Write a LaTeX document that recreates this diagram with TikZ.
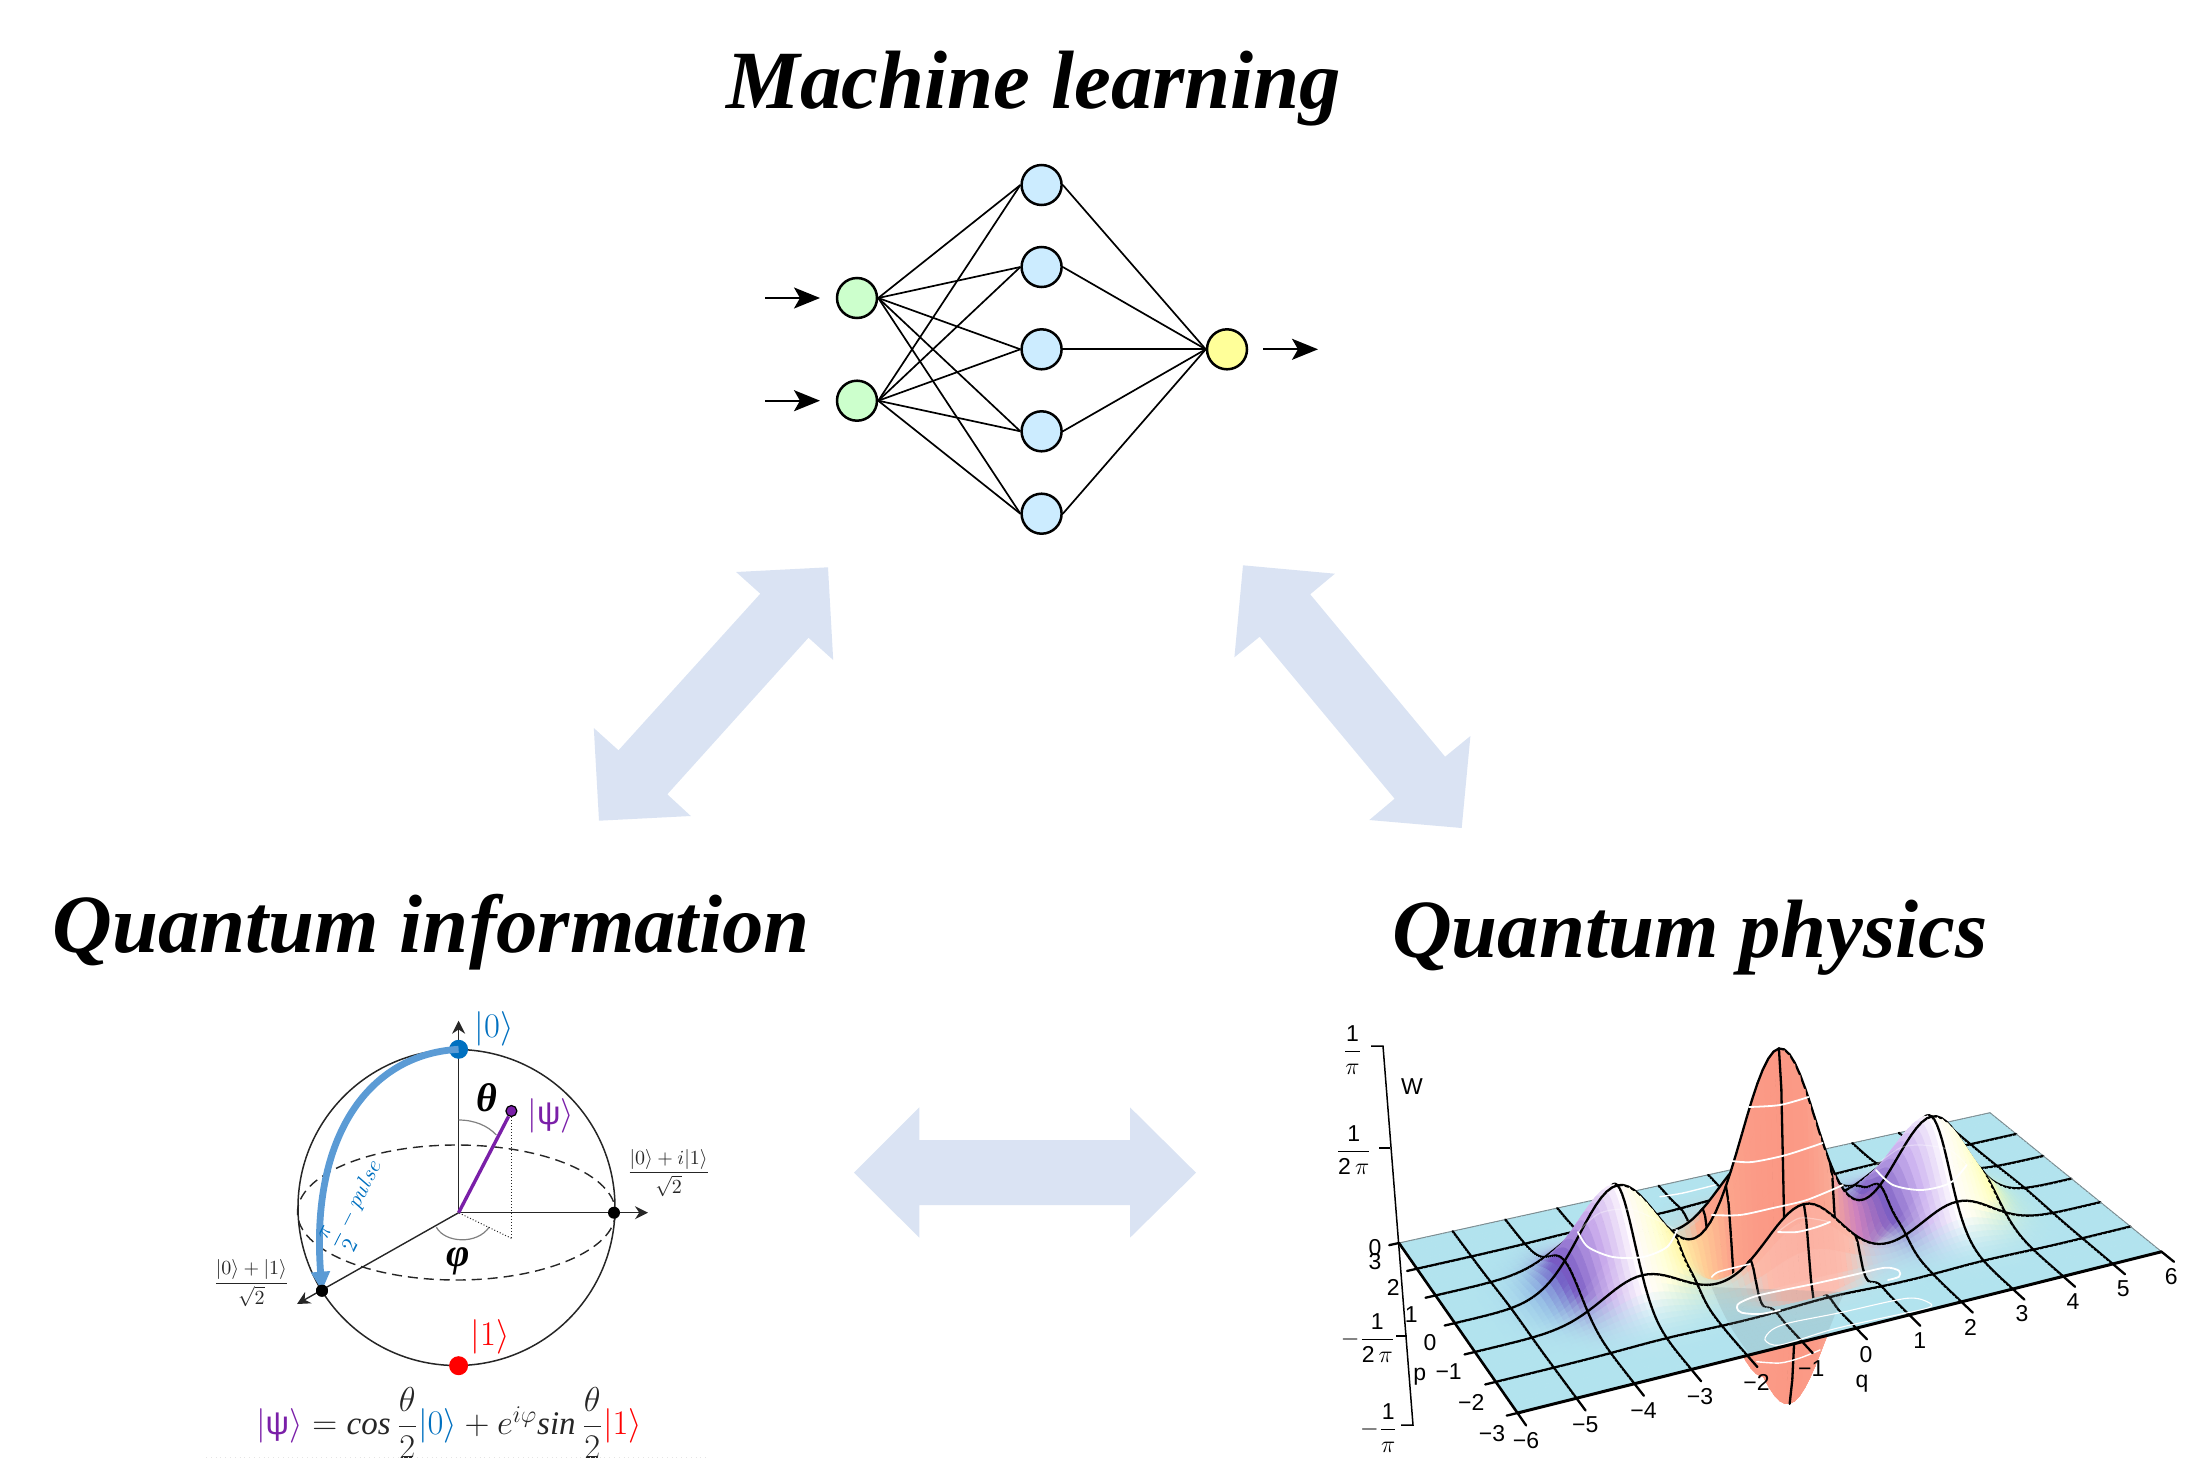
\documentclass[tikz,border=0pt]{standalone}
\usepackage{amsmath}
\usepackage{fontspec}
\setmainfont{Liberation Serif}
\newfontfamily\kf{Liberation Sans}
\usetikzlibrary{arrows.meta}

\definecolor{flowblue}{HTML}{DAE3F3}
\definecolor{nngreen}{HTML}{CCFFCC}
\definecolor{nnblue}{HTML}{CCECFF}
\definecolor{nnyellow}{HTML}{FFFF99}
\definecolor{qblue}{HTML}{0070C0}
\definecolor{qpulse}{HTML}{5B9BD5}
\definecolor{qpurple}{HTML}{7A1FA8}
\definecolor{qred}{HTML}{FF0000}
\definecolor{qink}{HTML}{262626}
\definecolor{plategrey}{HTML}{7F8C90}

\tikzset{
  heading/.style={anchor=base,font=\fontsize{41.4}{45}\selectfont\bfseries\itshape},
  flow/.style={fill=flowblue,draw=none},
  nncell/.style={circle,draw=black,line width=1.25pt,minimum size=20pt,inner sep=0pt},
  nnedge/.style={line width=.85pt,black},
  nnfeed/.style={line width=1pt,black,-{Stealth[length=13pt,width=10.5pt,inset=3pt]}},
  axisline/.style={line width=.7pt,qink},
  axisarrow/.style={axisline,-{Stealth[length=6.5pt,width=6.5pt]}},
  blochdot/.style={circle,inner sep=0pt,minimum size=#1},
  anglearc/.style={line width=.6pt,gray},
  guide/.style={line width=.5pt,qink,densely dotted},
  ticklabel/.style={font=\kf\fontsize{11.5}{12}\selectfont,inner sep=0pt},
  contour/.style={white,line width=.9pt,line cap=round,line join=round},
  contourfaint/.style={white,line width=.6pt,opacity=.35,line cap=round},
  surfaceaxis/.style={line width=.75pt,black}
}

% |x> with the bar and the angle bracket from the math fonts
\newcommand{\ketc}[1]{|#1\rangle}

% Grid tables of the Wigner function W(q,p), w = pi*W
% q = -6 + i/10 with i from 0 to 120, p = -3 + j/10 with j from 0 to 60
\newcommand{\wgpt}[2]{\pgfqpoint{\csname wx#1.#2\endcsname}{\csname wy#1.#2\endcsname}}
\def\stopsR{178,150,110,105,120,200,255,255,255,255,252,251,251,251,250,205,125,205,255,255,255,225,200,185,178,178}
\def\stopsG{227,190,150,130,90,170,250,255,248,205,165,155,152,155,170,130,95,180,252,255,255,250,240,232,227,227}
\def\stopsB{238,235,225,215,195,235,255,215,170,150,140,135,132,135,150,190,195,240,255,220,180,190,215,232,238,238}

\newcommand{\wgbuildcolumns}{%
  \foreach \i in {0,...,120}{%
    \pgfmathsetmacro\q{-6+\i/10}%
    \pgfmathparse{exp(0-(\q)*(\q))}\expandafter\xdef\csname wcen\i\endcsname{\pgfmathresult}%
    \pgfmathparse{0.5*(exp(0-(\q-3)*(\q-3))+exp(0-(\q+3)*(\q+3)))}\expandafter\xdef\csname wlob\i\endcsname{\pgfmathresult}%
    \pgfmathtruncatemacro\k{\i/5}%
    \pgfmathsetmacro\f{\i/5-\k}%
    \pgfmathtruncatemacro\kn{\k+1}%
    \pgfmathparse{(1-\f)*{\stopsR}[\k]+\f*{\stopsR}[\kn]}\expandafter\xdef\csname wcr\i\endcsname{\pgfmathresult}%
    \pgfmathparse{(1-\f)*{\stopsG}[\k]+\f*{\stopsG}[\kn]}\expandafter\xdef\csname wcg\i\endcsname{\pgfmathresult}%
    \pgfmathparse{(1-\f)*{\stopsB}[\k]+\f*{\stopsB}[\kn]}\expandafter\xdef\csname wcb\i\endcsname{\pgfmathresult}%
  }%
}
\newcommand{\wgbuildrows}{%
  \foreach \j in {0,...,60}{%
    \pgfmathsetmacro\p{-3+\j/10}%
    \pgfmathparse{exp(0-(\p)*(\p))}\expandafter\xdef\csname wenv\j\endcsname{\pgfmathresult}%
    \pgfmathparse{cos(deg(6*\p))}\expandafter\xdef\csname wcos\j\endcsname{\pgfmathresult}%
    % the near slopes are washed towards white
    \pgfmathparse{0.6*max(0,min(1,(-\p-0.6)/1.2))}\expandafter\xdef\csname wfad\j\endcsname{\pgfmathresult}%
  }%
}
\newcommand{\wgbuildpoints}{%
  \foreach \j in {0,...,60}{%
    \edef\env{\csname wenv\j\endcsname}\edef\co{\csname wcos\j\endcsname}\edef\fad{\csname wfad\j\endcsname}%
    \pgfmathsetmacro\v{\j/60}%
    \foreach \i in {0,...,120}{%
      \edef\cen{\csname wcen\i\endcsname}\edef\lob{\csname wlob\i\endcsname}%
      \pgfmathsetmacro\u{\i/120}%
      \pgfmathsetmacro\w{\env*(\lob+\cen*\co)}%
      \pgfmathsetmacro\dd{1+0.1091*\u+0.12153*\v-0.046*\w}%
      \pgfmathparse{0.5*(879.9*\u+51.5*\v+1517.5-81*\w)/\dd}\expandafter\xdef\csname wx\i.\j\endcsname{\pgfmathresult pt}%
      \pgfmathparse{-0.5*(-24.7*\u-18.94*\v+1413-270*\w)/\dd}\expandafter\xdef\csname wy\i.\j\endcsname{\pgfmathresult pt}%
      \pgfmathsetmacro\m{min(1,\env*(\lob+\cen)*7.14)}%
      \ifdim\m pt<0.01pt
        \expandafter\xdef\csname wc\i.\j\endcsname{0.698,0.89,0.933}%
      \else
        \pgfmathsetmacro\cr{(\m*((1-\fad)*\csname wcr\i\endcsname+\fad*255)+(1-\m)*178)/255}%
        \pgfmathsetmacro\cg{(\m*((1-\fad)*\csname wcg\i\endcsname+\fad*255)+(1-\m)*227)/255}%
        \pgfmathsetmacro\cb{(\m*((1-\fad)*\csname wcb\i\endcsname+\fad*255)+(1-\m)*238)/255}%
        \expandafter\xdef\csname wc\i.\j\endcsname{\cr,\cg,\cb}%
      \fi
    }%
  }%
}

% Grid lines fall on whole values of q and p
\foreach \n in {0,10,...,120}{\expandafter\xdef\csname wqline\n\endcsname{1}}
\foreach \n in {0,10,...,60}{\expandafter\xdef\csname wpline\n\endcsname{1}}

% One patch of the surface, (#1,#2) being its far corner
\newcommand{\wgquad}[2]{%
  \edef\il{\the\numexpr#1-1\relax}\edef\jl{\the\numexpr#2-1\relax}%
  \begin{pgfscope}%
    \edef\tmpc{\noexpand\definecolor{qc}{rgb}{\csname wc#1.#2\endcsname}}\tmpc
    \pgfsetcolor{qc}\pgfsetlinewidth{.3pt}%
    \pgfpathmoveto{\wgpt{\il}{\jl}}%
    \pgfpathlineto{\wgpt{#1}{\jl}}%
    \pgfpathlineto{\wgpt{#1}{#2}}%
    \pgfpathlineto{\wgpt{\il}{#2}}%
    \pgfpathclose
    \pgfusepath{fill,stroke}%
    \pgfsetroundcap
    \ifcsname wpline#2\endcsname
      \ifnum#2=60 \pgfsetcolor{plategrey}\pgfsetlinewidth{.5pt}\else\pgfsetcolor{black}\pgfsetlinewidth{1.15pt}\fi
      \pgfpathmoveto{\wgpt{\il}{#2}}\pgfpathlineto{\wgpt{#1}{#2}}\pgfusepath{stroke}%
    \fi
    \ifcsname wqline#1\endcsname
      \ifnum#1=120 \pgfsetcolor{plategrey}\pgfsetlinewidth{.5pt}\else\pgfsetcolor{black}\pgfsetlinewidth{1.15pt}\fi
      \pgfpathmoveto{\wgpt{#1}{\jl}}\pgfpathlineto{\wgpt{#1}{#2}}\pgfusepath{stroke}%
    \fi
    \ifnum\il=0
      \pgfsetcolor{black}\pgfsetlinewidth{1.3pt}%
      \pgfpathmoveto{\wgpt{0}{\jl}}\pgfpathlineto{\wgpt{0}{#2}}\pgfusepath{stroke}%
    \fi
  \end{pgfscope}%
}

\begin{document}
\begin{tikzpicture}[x=.5pt,y=-.5pt]
\useasboundingbox (0,0) rectangle (2186,1462);

% ---------- headings
\node[heading] (mltitle) at (1034,108) {Machine learning};
\node[heading] (qititle) at (431,952.5) {Quantum information};
\node[heading] (qptitle) at (1690,957.5) {Quantum physics};

% ---------- wide two-headed arrows between the three fields
\fill[flow] (736.1,572) -- (828,567.3) -- (833.2,660) -- (808.5,637.7) -- (667.3,794.3) -- (690.8,816) -- (599,820.7) -- (593.8,728) -- (618.5,750.3) -- (760.3,593.7) -- cycle;
\fill[flow] (1243,565.3) -- (1334.9,573.7) -- (1310.2,594.3) -- (1445.1,756.7) -- (1470.4,736) -- (1461.7,828) -- (1369.3,820) -- (1394.6,798.7) -- (1259.7,636.7) -- (1234.4,657.3) -- cycle;
\fill[flow] (854,1172.7) -- (919.3,1107.3) -- (919.3,1140) -- (1130,1140) -- (1130,1107.3) -- (1196,1172.7) -- (1130,1237.7) -- (1130,1205) -- (919.3,1205) -- (919.3,1237.7) -- cycle;

% ---------- neural network
\node[nncell,fill=nngreen] (g1) at (857,298) {};
\node[nncell,fill=nngreen] (g2) at (857,400.7) {};
\node[nncell,fill=nnblue] (b1) at (1041.6,185) {};
\node[nncell,fill=nnblue] (b2) at (1041.6,267) {};
\node[nncell,fill=nnblue] (b3) at (1041.6,349.3) {};
\node[nncell,fill=nnblue] (b4) at (1041.6,431.3) {};
\node[nncell,fill=nnblue] (b5) at (1041.6,513.7) {};
\node[nncell,fill=nnyellow] (y1) at (1227,349.3) {};
\foreach \g in {g1,g2}{\foreach \b in {b1,b2,b3,b4,b5}{\draw[nnedge] (\g.east) -- (\b.west);}}
\foreach \b in {b1,b2,b3,b4,b5}{\draw[nnedge] (\b.east) -- (y1.west);}
\coordinate (i1s) at (765,298); \coordinate (i1e) at (820,298);
\coordinate (i2s) at (765,400.7); \coordinate (i2e) at (820,400.7);
\coordinate (os) at (1263,349.3); \coordinate (oe) at (1318,349.3);
\draw[nnfeed] (i1s) -- (i1e);
\draw[nnfeed] (i2s) -- (i2e);
\draw[nnfeed] (os) -- (oe);

% ---------- Bloch sphere
\coordinate (o) at (458.6,1212.7);
\coordinate (ztip) at (458.6,1020.7);
\coordinate (ytip) at (648,1212.7);
\coordinate (xtip) at (297,1304);
\coordinate (foot) at (511.4,1238.3);
\draw[line width=.75pt,qink] (456.5,1207.5) ellipse [x radius=158.5,y radius=158];
\draw[line width=.7pt,qink,dash pattern=on 5pt off 3pt] (456.5,1212.5) ellipse [x radius=159,y radius=67.5];
\draw[axisarrow] (o) -- (ztip);
\draw[axisarrow] (o) -- (ytip);
\draw[axisarrow] (o) -- (xtip);
\node[blochdot=6pt,fill=black] (px) at (322,1290.7) {};
\node[blochdot=6pt,fill=black] (py) at (614,1212.7) {};
\draw[anglearc] (458.6,1120) .. controls (475,1120) and (488,1126) .. (496.4,1135);
\draw[anglearc] (436.4,1227.3) .. controls (445,1243) and (477,1245) .. (489.3,1227);
\node[circle,draw=black,line width=.6pt,fill=qpurple,inner sep=0pt,minimum size=5.5pt] (psi) at (511.4,1111) {};
\draw[guide] (psi) -- (foot);
\draw[guide] (foot) -- (o);
\draw[line width=1.7pt,qpurple] (o) -- (psi);
\node[blochdot=9.5pt,fill=qblue] (zero) at (458.6,1049.3) {};
\node[blochdot=9.5pt,fill=qred] (one) at (458.6,1365.7) {};
\draw[line width=3.4pt,qpulse,-{Triangle[length=9.5pt,width=9pt]}] (zero.center) .. controls (370,1054) and (310,1135) .. (px.center);
\node[blochdot=6pt,fill=black] at (px) {};
\node[text=qblue,font=\fontsize{17.5}{18}\selectfont] (l0) at (494,1029) {$\ketc{0}$};
\node[text=qred,font=\fontsize{17.5}{18}\selectfont] (l1) at (490,1337) {$\ketc{1}$};
\node[text=qpurple,font=\kf\fontsize{16.5}{18}\selectfont] (lp) at (550.7,1116) {$\ketc{\mbox{ψ}}$};
\node[font=\fontsize{20}{21}\selectfont\bfseries\itshape] (lt) at (486.4,1098) {θ};
\node[font=\fontsize{20}{21}\selectfont\bfseries\itshape] (lf) at (458,1261.7) {φ};
\node[text=qink,font=\fontsize{10}{12}\selectfont] (fr) at (668.6,1172.7) {$\dfrac{\ketc{0}+i\ketc{1}}{\sqrt{2}}$};
\node[text=qink,font=\fontsize{10}{12}\selectfont] (fl) at (251.4,1283.3) {$\dfrac{\ketc{0}+\ketc{1}}{\sqrt{2}}$};
\node[text=qblue,rotate=63,inner sep=0pt,font=\fontsize{11}{13}\selectfont] (lpulse) at (356,1205) {$\dfrac{\pi}{2}-pulse$};
\node[text=qink,font=\fontsize{16.5}{18}\selectfont] (eq) at (449,1423) {$\textcolor{qpurple}{\ketc{\mbox{\kf ψ}}}=\mathit{cos}\,\dfrac{\theta}{2}\textcolor{qblue}{\ketc{0}}+e^{i\varphi}\mathit{sin}\,\dfrac{\theta}{2}\textcolor{qred}{\ketc{1}}$};
\coordinate (ds) at (206,1457); \coordinate (de) at (708,1457);
\draw[gray!20,line width=.4pt,dotted] (ds) -- (de);

% ---------- Wigner function: the trough first, then the whole sheet from back to front
\wgbuildcolumns
\wgbuildrows
\wgbuildpoints
\foreach \j in {28,27,...,21}{\foreach \i in {74,73,...,46}{\wgquad{\i}{\j}}}
\foreach \j in {60,59,...,1}{\foreach \i in {120,119,...,1}{\wgquad{\i}{\j}}}

% trough seen faintly through the plate
\fill[plategrey,opacity=.2] (1711.7,1287) .. controls (1725,1320) and (1735,1335) .. (1750,1355) -- (1826,1337) .. controls (1835,1315) and (1840,1300) .. (1845,1292) -- cycle;

% level curves
\draw[contour] plot[smooth] coordinates {(1749,1107) (1780,1105) (1808.5,1097)};
\draw[contour] plot[smooth] coordinates {(1732,1161) (1752,1162) (1786,1155) (1822.6,1143)};
\draw[contour] plot[smooth] coordinates {(1711.7,1215) (1740,1215) (1773,1208) (1806.7,1200) (1843,1185)};
\draw[contour,line width=.7pt] plot[smooth] coordinates {(1660,1196.7) (1683,1193) (1715,1185)};
\draw[contour] plot[smooth] coordinates {(1876,1170) (1893,1185) (1921.5,1190) (1950,1183) (1966.7,1165)};
\draw[contourfaint] plot[smooth] coordinates {(1876,1165) (1900,1148) (1921.5,1145) (1950,1150) (1966.7,1165)};
\draw[contour] plot[smooth] coordinates {(1578,1232) (1588,1247) (1613,1257) (1643,1257) (1667,1247) (1677,1230)};
\draw[contourfaint] plot[smooth] coordinates {(1578,1232) (1600,1213) (1633,1210) (1677,1230)};
\draw[contour] plot[smooth] coordinates {(1778,1232) (1797,1232) (1817,1227) (1830,1222)};
\draw[contourfaint] plot[smooth] coordinates {(1778,1232) (1800,1218) (1830,1222)};
\draw[contour,line width=.8pt] plot[smooth] coordinates {(1711.7,1277) (1718,1272) (1737,1267) (1750,1264)};
\draw[contour] plot[smooth] coordinates {(1780,1310) (1760,1314) (1741.7,1312.7) (1737,1308) (1740,1302.7) (1760,1295) (1813,1284) (1853,1275) (1885,1267.7) (1899,1270.7) (1899,1276.7) (1888,1280)};
\draw[contour,line width=.55pt] plot[smooth cycle] coordinates {(1765,1340) (1771.7,1330) (1790,1322.7) (1840,1312.7) (1906.7,1298.3) (1929,1302.7) (1926.7,1308.3) (1873,1320) (1830,1330) (1780,1345)};
\draw[contour,line width=.7pt] plot[smooth] coordinates {(1756.7,1361.7) (1780,1363) (1800,1358) (1820,1350)};

% plate edges in front and the graduation marks
\coordinate (fl0) at (1517.5,1413);
\coordinate (fr0) at (2161.6,1251.7);
\draw[line width=1.5pt,black,line cap=round] (fl0) -- (fr0);
\foreach \i in {0,10,...,120}{
  \pgfmathsetmacro\u{\i/120}
  \pgfmathsetmacro\dd{1+0.1091*\u-0.12153*0.065}
  \pgfmathsetmacro\tx{(879.9*\u-51.5*0.065+1517.5)/\dd}
  \pgfmathsetmacro\ty{(-24.7*\u+18.94*0.065+1413)/\dd}
  \coordinate (qa) at (\csname wx\i.0\endcsname,\csname wy\i.0\endcsname);
  \draw[line width=1.15pt,black,line cap=round] (qa) -- (\tx,\ty);
}
\foreach \j in {0,10,...,60}{
  \pgfmathsetmacro\v{\j/60}
  \pgfmathsetmacro\dd{1-0.1091*0.015+0.12153*\v}
  \pgfmathsetmacro\tx{(-879.9*0.015+51.5*\v+1517.5)/\dd}
  \pgfmathsetmacro\ty{(24.7*0.015-18.94*\v+1413)/\dd}
  \coordinate (pa) at (\csname wx0.\j\endcsname,\csname wy0.\j\endcsname);
  \draw[line width=1.15pt,black,line cap=round] (pa) -- (\tx,\ty);
}

% vertical scale of the surface
\coordinate (wtop) at (1383,1046);
\coordinate (wbot) at (1413,1425);
\draw[surfaceaxis] (1371,1046) -- (wtop) -- (wbot) -- (1401,1425);
\draw[surfaceaxis] (1379,1148) -- (1390,1148);
\draw[surfaceaxis] (1396,1336) -- (1407,1336);

% axis figures
\foreach \t/\xx/\yy in {−6/1526/1440.7,−5/1585.3/1425,−4/1643.5/1410.7,−3/1700/1396.7,−2/1756.5/1382.7,−1/1811.3/1368.3,0/1866/1354.3,1/1919.8/1340.7,2/1970.6/1327.3,3/2022/1314,4/2072.9/1301.7,5/2123.2/1289,6/2171.2/1276.7,%
  3/1375/1261.7,2/1393.2/1287.3,1/1411.3/1315,0/1430/1342.3,−1/1448.6/1371.7,−2/1471.2/1402.3,−3/1492/1433.3,0/1375/1248}
  {\node[ticklabel] at (\xx,\yy) {\t};}
\node[ticklabel] (lq) at (1862,1383.3) {q};
\node[ticklabel] (lp2) at (1419.8,1376.7) {p};
\node[ticklabel] (lw) at (1412,1087) {W};
\node[ticklabel] (w1) at (1352.5,1050) {$\dfrac{\mbox{1}}{\pi}$};
\node[ticklabel] (w2) at (1353.7,1150) {$\dfrac{\mbox{1}}{\mbox{2}\,\pi}$};
\node[ticklabel] (w3) at (1368,1338) {$-\dfrac{\mbox{1}}{\mbox{2}\,\pi}$};
\node[ticklabel] (w4) at (1379,1428) {$-\dfrac{\mbox{1}}{\pi}$};
\end{tikzpicture}
\end{document}
